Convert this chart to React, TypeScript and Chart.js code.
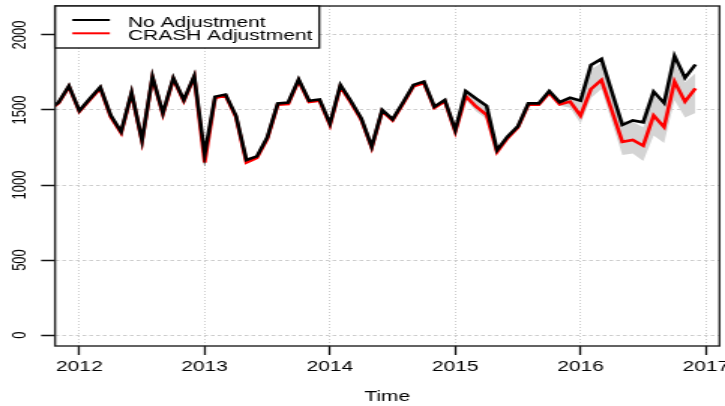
import React, { useEffect, useRef } from "react";
import { Chart, registerables } from "chart.js";

Chart.register(...registerables);

// Monthly series, starting October 2011
const START_YEAR = 2011;
const START_MONTH = 10;

const noAdjustment = [
  1500, 1550, 1660, 1495, 1575, 1652, 1465, 1355, 1617, 1298, 1722, 1480,
  1714, 1567, 1727, 1205, 1589, 1603, 1462, 1167, 1191, 1318, 1544, 1550,
  1704, 1562, 1570, 1409, 1667, 1560, 1444, 1256, 1500, 1438, 1550, 1667,
  1689, 1522, 1567, 1367, 1626, 1575, 1528, 1232, 1322, 1391, 1544, 1544,
  1626, 1552, 1581, 1562, 1800, 1840, 1620, 1400, 1430, 1418, 1622, 1546,
  1860, 1714, 1803,
];

const crashAdjustment = [
  1495, 1545, 1655, 1490, 1568, 1645, 1455, 1347, 1610, 1292, 1715, 1472,
  1706, 1560, 1720, 1150, 1580, 1596, 1452, 1150, 1180, 1308, 1535, 1540,
  1695, 1553, 1562, 1400, 1655, 1550, 1435, 1248, 1492, 1430, 1542, 1658,
  1680, 1514, 1558, 1355, 1592, 1522, 1467, 1220, 1312, 1384, 1535, 1535,
  1614, 1538, 1556, 1462, 1640, 1700, 1495, 1288, 1300, 1262, 1463, 1386,
  1689, 1556, 1644,
];

const bandLower = [
  null, null, null, null, null, null, null, null, null, null, null, null,
  null, null, null, null, null, null, null, null, null, null, null, null,
  null, null, null, null, null, null, null, null, null, null, null, null,
  null, null, null, 1355, 1570, 1490, 1440, 1212, null, null, null, null,
  null, 1528, 1515, 1410, 1580, 1640, 1420, 1200, 1210, 1160, 1330, 1280,
  1565, 1450, 1480,
];

const bandUpper = [
  null, null, null, null, null, null, null, null, null, null, null, null,
  null, null, null, null, null, null, null, null, null, null, null, null,
  null, null, null, null, null, null, null, null, null, null, null, null,
  null, null, null, 1367, 1626, 1575, 1528, 1232, null, null, null, null,
  null, 1552, 1581, 1560, 1770, 1815, 1600, 1430, 1420, 1385, 1600, 1525,
  1810, 1685, 1745,
];

const yTicks = [0, 500, 1000, 1500, 2000];
const xTicks = [2012, 2013, 2014, 2015, 2016, 2017];
const seriesNames = ["No Adjustment", "CRASH Adjustment"];
const seriesColors = ["#000000", "#ff0000"];
const xTitle = "Time";

const X_MIN = 2011.806;
const X_MAX = 2017.109;
const Y_MIN = -73;
const Y_MAX = 2193;

const CW = 483; // canvas width (stretched 1.5x horizontally on screen)
const CH = 406;
const FONT = '"Liberation Sans", Arial, Helvetica, sans-serif';

function timeOf(i: number) {
  return START_YEAR + (START_MONTH - 1 + i) / 12;
}

function toPoints(values: (number | null)[]) {
  return values.map((v, i) => ({ x: timeOf(i), y: v }));
}

function bandSegments() {
  const segs: { lo: any[]; hi: any[] }[] = [];
  let cur: { lo: any[]; hi: any[] } | null = null;
  for (let i = 0; i < bandLower.length; i++) {
    const lo = bandLower[i];
    const hi = bandUpper[i];
    if (lo == null || hi == null) {
      cur = null;
      continue;
    }
    if (!cur) {
      cur = { lo: [], hi: [] };
      segs.push(cur);
    }
    cur.lo.push({ x: timeOf(i), y: lo });
    cur.hi.push({ x: timeOf(i), y: hi });
  }
  return segs;
}

const decorPlugin = {
  id: "decor",
  afterDatasetsDraw(chart: any) {
    const { ctx, chartArea: a, scales } = chart;
    const y = scales.y;
    ctx.save();
    // plot box
    ctx.strokeStyle = "#222";
    ctx.lineWidth = 1.4;
    ctx.setLineDash([]);
    ctx.strokeRect(a.left, a.top, a.right - a.left, a.bottom - a.top);

    // y tick labels (rotated, R style)
    ctx.fillStyle = "#000";
    ctx.font = `13px ${FONT}`;
    ctx.textAlign = "center";
    ctx.textBaseline = "alphabetic";
    for (const t of y.ticks) {
      const py = y.getPixelForValue(t.value);
      ctx.save();
      ctx.translate(a.left - 20, py);
      ctx.rotate(-Math.PI / 2);
      ctx.fillText(String(t.value), 0, 0);
      ctx.restore();
    }

    // legend box
    const lx = a.left;
    const ly = a.top;
    const lw = 176;
    const lh = 42;
    ctx.fillStyle = "#fff";
    ctx.fillRect(lx, ly, lw, lh);
    ctx.strokeStyle = "#111";
    ctx.lineWidth = 1.4;
    ctx.strokeRect(lx, ly, lw, lh);
    ctx.font = `14px ${FONT}`;
    ctx.textAlign = "left";
    ctx.textBaseline = "alphabetic";
    const rows = [14, 27.3];
    seriesNames.forEach((name, i) => {
      const ry = ly + rows[i];
      ctx.strokeStyle = seriesColors[i];
      ctx.lineWidth = 2;
      ctx.beginPath();
      ctx.moveTo(lx + 11.5, ry);
      ctx.lineTo(lx + 36.5, ry);
      ctx.stroke();
      ctx.fillStyle = "#000";
      ctx.fillText(name, lx + 48.5, ry + 6.5);
    });
    ctx.restore();
  },
};

export default function App() {
  const canvasRef = useRef<HTMLCanvasElement | null>(null);

  useEffect(() => {
    const canvas = canvasRef.current;
    if (!canvas) return;
    const datasets: any[] = [];
    bandSegments().forEach((s) => {
      datasets.push({
        data: s.lo,
        borderWidth: 0,
        pointRadius: 0,
        fill: false,
        order: 10,
      });
      datasets.push({
        data: s.hi,
        borderWidth: 0,
        pointRadius: 0,
        fill: "-1",
        backgroundColor: "#d4d4d4",
        order: 10,
      });
    });
    datasets.push({
      label: seriesNames[1],
      data: toPoints(crashAdjustment),
      borderColor: seriesColors[1],
      borderWidth: 2.6,
      pointRadius: 0,
      fill: false,
      tension: 0,
      order: 2,
    });
    datasets.push({
      label: seriesNames[0],
      data: toPoints(noAdjustment),
      borderColor: seriesColors[0],
      borderWidth: 2.6,
      pointRadius: 0,
      fill: false,
      tension: 0,
      order: 1,
    });

    const chart = new Chart(canvas, {
      type: "line",
      data: { datasets },
      plugins: [decorPlugin],
      options: {
        animation: false,
        responsive: false,
        devicePixelRatio: 1,
        layout: { padding: { left: 0, right: CW - 479.33, top: 6, bottom: 0 } },
        plugins: {
          legend: { display: false },
          tooltip: { enabled: false },
        },
        scales: {
          x: {
            type: "linear",
            min: X_MIN,
            max: X_MAX,
            afterBuildTicks: (s: any) => {
              s.ticks = xTicks.map((v) => ({ value: v }));
            },
            ticks: {
              callback: (v: any) => String(v),
              font: { size: 14, family: FONT },
              color: "#000",
              padding: 4,
              maxRotation: 0,
              minRotation: 0,
              autoSkip: false,
            },
            grid: {
              color: "#cdcdcd",
              lineWidth: 1,
              tickLength: 9,
              tickColor: "#111",
              tickWidth: 1.3,
            },
            border: { display: false, dash: [1, 2] },
            title: {
              display: true,
              text: xTitle,
              font: { size: 14, family: FONT },
              color: "#000",
              padding: { top: 0, bottom: 0 },
            },
            afterFit: (s: any) => {
              s.height = 60;
              s.paddingLeft = 0;
              s.paddingRight = 0;
            },
          },
          y: {
            type: "linear",
            min: Y_MIN,
            max: Y_MAX,
            afterBuildTicks: (s: any) => {
              s.ticks = yTicks.map((v) => ({ value: v }));
            },
            ticks: { display: false },
            grid: {
              color: "#cdcdcd",
              lineWidth: 1,
              tickLength: 9.3,
              tickColor: "#111",
              tickWidth: 1.5,
            },
            border: { display: false, dash: [2.5, 2] },
            afterFit: (s: any) => {
              s.width = 36.67;
              s.paddingTop = 0;
              s.paddingBottom = 0;
            },
          },
        },
      },
    });
    return () => chart.destroy();
  }, []);

  return (
    <div style={{ position: "fixed", left: 0, top: 0, width: 725, height: 406, background: "#fff" }}>
      <canvas
        ref={canvasRef}
        width={CW}
        height={CH}
        style={{ width: "725px", height: "406px", display: "block" }}
      />
    </div>
  );
}
